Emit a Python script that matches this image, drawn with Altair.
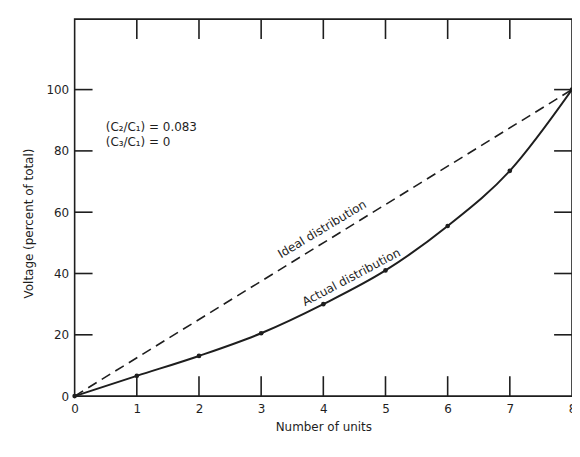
import altair as alt
import pandas as pd

units = [0, 1, 2, 3, 4, 5, 6, 7, 8]
actual = [0, 6.6, 13.1, 20.5, 30, 41, 55.5, 73.5, 100]
ideal_x = [0, 8]
ideal_y = [0, 100]
x_ticks = [1, 2, 3, 4, 5, 6, 7]
y_ticks_left = [20, 40, 60, 80, 100]
y_ticks_right = [20, 40, 60, 80, 100]
x_labels = [0, 1, 2, 3, 4, 5, 6, 7, 8]
y_labels = [0, 20, 40, 60, 80, 100]

W, H = 500, 379
FONT = "DejaVu Sans"
INK = "#1e1e1e"

xs = alt.Scale(domain=[0, 8], nice=False, zero=False)
ys = alt.Scale(domain=[0, 123], nice=False, zero=False)

act_df = pd.DataFrame({"n": units, "v": actual})
ideal_df = pd.DataFrame({"n": ideal_x, "v": ideal_y})

base_x = alt.X("n:Q", scale=xs, axis=alt.Axis(
    values=x_labels, format="d", title="Number of units", ticks=False, grid=False, domain=False,
    labelFont=FONT, labelFontSize=12, labelColor=INK, labelPadding=7,
    labelOverlap=False, labelFlush=False,
    titleFont=FONT, titleFontSize=12, titleFontWeight="normal", titleColor=INK, titlePadding=8))
base_y = alt.Y("v:Q", scale=ys, axis=alt.Axis(
    values=y_labels, format="d", title="Voltage (percent of total)", ticks=False, grid=False, domain=False,
    labelFont=FONT, labelFontSize=12, labelColor=INK, labelPadding=6, labelFlush=False,
    titleFont=FONT, titleFontSize=12, titleFontWeight="normal", titleColor=INK, titlePadding=10,
    titleY=205))

ideal = alt.Chart(ideal_df).mark_line(color=INK, strokeWidth=1.6, strokeDash=[10, 6]).encode(
    x=base_x, y=base_y)
act_line = alt.Chart(act_df).mark_line(color=INK, strokeWidth=2, interpolate="monotone").encode(
    x=alt.X("n:Q", scale=xs), y=alt.Y("v:Q", scale=ys))
act_pts = alt.Chart(act_df).mark_circle(color=INK, size=22, opacity=1).encode(
    x=alt.X("n:Q", scale=xs), y=alt.Y("v:Q", scale=ys))

bt = pd.DataFrame({"n": x_ticks})
bottom_ticks = alt.Chart(bt).mark_rule(color=INK, strokeWidth=1.6).encode(
    x=alt.X("n:Q", scale=xs), y=alt.value(H), y2=alt.value(H - 20))
top_ticks = alt.Chart(bt).mark_rule(color=INK, strokeWidth=1.6).encode(
    x=alt.X("n:Q", scale=xs), y=alt.value(0), y2=alt.value(20))
lt = pd.DataFrame({"v": y_ticks_left})
left_ticks = alt.Chart(lt).mark_rule(color=INK, strokeWidth=1.6).encode(
    y=alt.Y("v:Q", scale=ys), x=alt.value(0), x2=alt.value(18))
rt = pd.DataFrame({"v": y_ticks_right})
right_ticks = alt.Chart(rt).mark_rule(color=INK, strokeWidth=1.6).encode(
    y=alt.Y("v:Q", scale=ys), x=alt.value(W), x2=alt.value(W - 18))

ann_df = pd.DataFrame({"n": [0.5, 0.5], "v": [87.7, 82.8],
                       "t": ["(C\u2082/C\u2081) = 0.083", "(C\u2083/C\u2081) = 0"]})
ann = alt.Chart(ann_df).mark_text(align="left", baseline="middle", font=FONT, fontSize=12,
                                  color=INK).encode(
    x=alt.X("n:Q", scale=xs), y=alt.Y("v:Q", scale=ys), text="t:N")

ideal_lbl = alt.Chart(pd.DataFrame({"n": [3.98], "v": [54.5], "t": ["Ideal distribution"]})).mark_text(
    align="center", baseline="middle", font=FONT, fontSize=12, color=INK, angle=329).encode(
    x=alt.X("n:Q", scale=xs), y=alt.Y("v:Q", scale=ys), text="t:N")
act_lbl = alt.Chart(pd.DataFrame({"n": [4.45], "v": [38.8], "t": ["Actual distribution"]})).mark_text(
    align="center", baseline="middle", font=FONT, fontSize=12, color=INK, angle=332).encode(
    x=alt.X("n:Q", scale=xs), y=alt.Y("v:Q", scale=ys), text="t:N")

chart = alt.layer(ideal, act_line, act_pts, bottom_ticks, top_ticks, left_ticks, right_ticks,
                  ann, ideal_lbl, act_lbl).properties(
    width=W, height=H,
    autosize=alt.AutoSizeParams(type="none"),
    padding={"left": 67, "top": 10, "right": 0, "bottom": 48},
    background="white",
).configure_view(stroke=INK, strokeWidth=1.6)

chart.save("out.html", embed_options={"renderer": "svg", "actions": False})
